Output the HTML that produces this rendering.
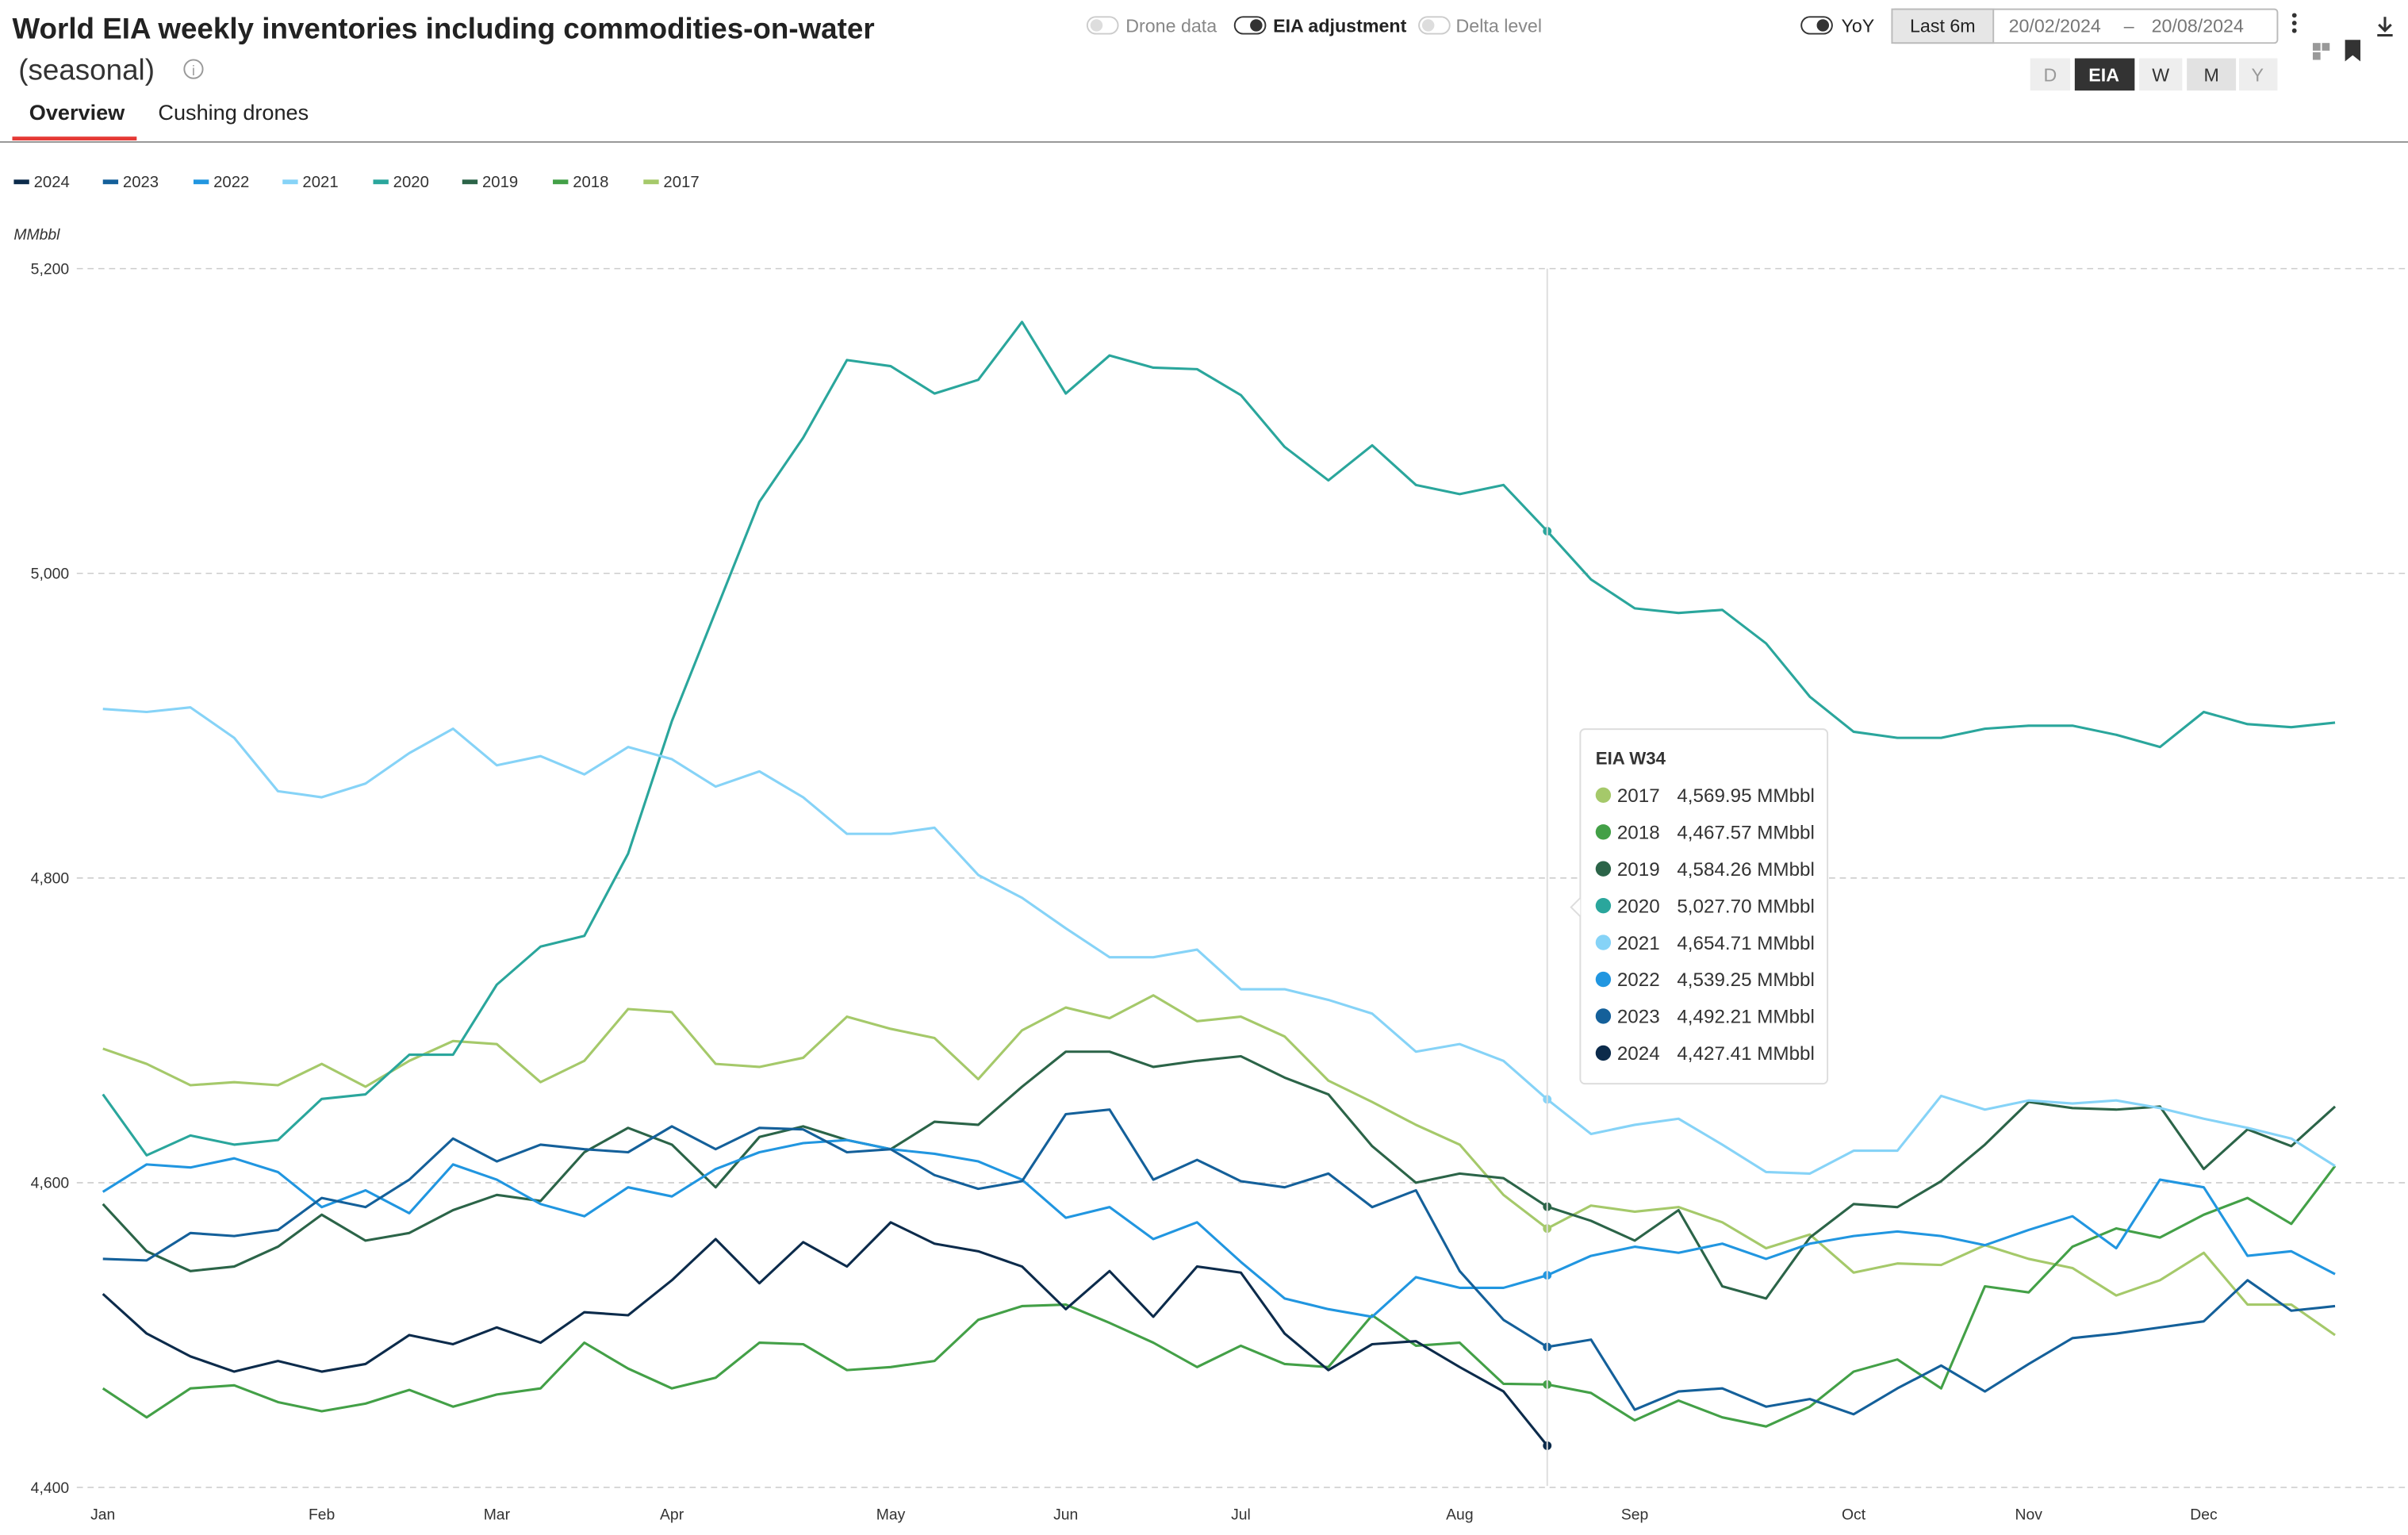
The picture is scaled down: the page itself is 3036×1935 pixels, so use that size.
<!DOCTYPE html>
<html><head><meta charset="utf-8"><style>
html,body{margin:0;padding:0;background:#fff;}
svg{display:block;font-family:"Liberation Sans",sans-serif;}
</style></head><body>
<svg id="chart" width="3036" height="1935" viewBox="0 0 1568 1000" preserveAspectRatio="none" xmlns="http://www.w3.org/2000/svg">
<g>
<text x="8" y="25" font-size="19" font-weight="bold" fill="#222">World EIA weekly inventories including commodities-on-water</text>
<text x="12" y="52" font-size="19" fill="#333">(seasonal)</text>
<g><circle cx="126" cy="45" r="6" fill="none" stroke="#999" stroke-width="1"/><text x="126" y="49" font-size="9" fill="#999" text-anchor="middle">i</text></g>
<text x="19" y="78" font-size="14" font-weight="bold" fill="#222">Overview</text>
<rect x="8" y="89" width="81" height="2.5" fill="#e53935"/>
<text x="103" y="78" font-size="14" fill="#222">Cushing drones</text>
<line x1="0" y1="92.5" x2="1568" y2="92.5" stroke="#999" stroke-width="1"/>
<g><rect x="708" y="11" width="20" height="11" rx="5.5" fill="#fff" stroke="#ccc"/><circle cx="714" cy="16.5" r="4" fill="#ddd"/><text x="733" y="21" font-size="12" fill="#888">Drone data</text></g>
<g><rect x="804" y="11" width="20" height="11" rx="5.5" fill="#fff" stroke="#333"/><circle cx="818" cy="16.5" r="4" fill="#333"/><text x="829" y="21" font-size="12" font-weight="bold" fill="#222">EIA adjustment</text></g>
<g><rect x="924" y="11" width="20" height="11" rx="5.5" fill="#fff" stroke="#ccc"/><circle cx="930" cy="16.5" r="4" fill="#ddd"/><text x="948" y="21" font-size="12" fill="#888">Delta level</text></g>
<g><rect x="1173" y="11" width="20" height="11" rx="5.5" fill="#fff" stroke="#333"/><circle cx="1187" cy="16.5" r="4" fill="#333"/><text x="1199" y="21" font-size="12" fill="#222">YoY</text></g>
<g><rect x="1232" y="6" width="251" height="22" rx="2" fill="#fff" stroke="#bbb"/><rect x="1232" y="6" width="66" height="22" fill="#e6e6e6" stroke="#bbb"/><text x="1265" y="21" font-size="12" fill="#222" text-anchor="middle">Last 6m</text><text x="1308" y="21" font-size="12" fill="#777">20/02/2024</text><text x="1383" y="21" font-size="12" fill="#777">–</text><text x="1401" y="21" font-size="12" fill="#777">20/08/2024</text></g>
<g><circle cx="1494" cy="10" r="1.5" fill="#333"/><circle cx="1494" cy="15" r="1.5" fill="#333"/><circle cx="1494" cy="20" r="1.5" fill="#333"/></g>
<g><path d="M1553 11v9M1549 16l4 4 4-4M1548 23h10" stroke="#333" stroke-width="1.6" fill="none"/></g>
<g><rect x="1506" y="28" width="5" height="5" fill="#999"/><rect x="1512" y="28" width="5" height="5" fill="#999"/><rect x="1506" y="34" width="5" height="5" fill="#999"/></g>
<path d="M1527 26h10v14l-5-4-5 4z" fill="#333"/>
<g>
<rect x="1322" y="38" width="26" height="21" fill="#eee"/><text x="1335" y="53" font-size="12" fill="#999" text-anchor="middle">D</text>
<rect x="1351" y="38" width="39" height="21" fill="#333"/><text x="1370" y="53" font-size="12" font-weight="bold" fill="#fff" text-anchor="middle">EIA</text>
<rect x="1393" y="38" width="28" height="21" fill="#eee"/><text x="1407" y="53" font-size="12" fill="#333" text-anchor="middle">W</text>
<rect x="1424" y="38" width="32" height="21" fill="#e2e2e2"/><text x="1440" y="53" font-size="12" fill="#333" text-anchor="middle">M</text>
<rect x="1458" y="38" width="25" height="21" fill="#eee"/><text x="1470" y="53" font-size="12" fill="#999" text-anchor="middle">Y</text>
</g>
</g>
<g id="legend"></g>
<text x="9" y="156" font-size="10" font-style="italic" fill="#333">MMbbl</text>
<g id="grid"></g><g id="series"></g><g id="cross"></g><g id="tooltip"></g>
<script>
const NS="http://www.w3.org/2000/svg";
const years=["2024","2023","2022","2021","2020","2019","2018","2017"];
const colors=["#0c2b4b","#14609a","#2196e0","#86d3f7","#2aa69c","#2b6448","#43a047","#a5c96a"];
const months=["Jan","Feb","Mar","Apr","May","Jun","Jul","Aug","Sep","Oct","Nov","Dec"];
const monthWeeks=[0,5,9,13,18,22,26,31,35,40,44,48];
const yTicks=[4400,4600,4800,5000,5200];
const d2024=[4527,4501,4486,4476,4483,4476,4481,4500,4494,4505,4495,4515,4513,4536,4563,4534,4561,4545,4574,4560,4555,4545,4517,4542,4512,4545,4541,4501,4477,4494,4496,4479,4463,4427.41];
const d2023=[4550,4549,4567,4565,4569,4590,4584,4602,4629,4614,4625,4622,4620,4637,4622,4636,4635,4620,4622,4605,4596,4601,4645,4648,4602,4615,4601,4597,4606,4584,4595,4542,4510,4492.21,4497,4451,4463,4465,4453,4458,4448,4465,4480,4463,4481,4498,4501,4505,4509,4536,4516,4519];
const d2022=[4594,4612,4610,4616,4607,4584,4595,4580,4612,4602,4586,4578,4597,4591,4609,4620,4626,4628,4622,4619,4614,4602,4577,4584,4563,4574,4548,4524,4517,4512,4538,4531,4531,4539.25,4552,4558,4554,4560,4550,4560,4565,4568,4565,4559,4569,4578,4557,4602,4597,4552,4555,4540];
const d2021=[4911,4909,4912,4892,4857,4853,4862,4882,4898,4874,4880,4868,4886,4878,4860,4870,4853,4829,4829,4833,4802,4787,4767,4748,4748,4753,4727,4727,4720,4711,4686,4691,4680,4654.71,4632,4638,4642,4625,4607,4606,4621,4621,4657,4648,4654,4652,4654,4649,4642,4636,4629,4611];
const d2020=[4658,4618,4631,4625,4628,4655,4658,4684,4684,4730,4755,4762,4816,4903,4975,5047,5089,5140,5136,5118,5127,5165,5118,5143,5135,5134,5117,5083,5061,5084,5058,5052,5058,5027.70,4996,4977,4974,4976,4954,4919,4896,4892,4892,4898,4900,4900,4894,4886,4909,4901,4899,4902];
const d2019=[4586,4555,4542,4545,4558,4579,4562,4567,4582,4592,4588,4620,4636,4625,4597,4630,4637,4628,4622,4640,4638,4663,4686,4686,4676,4680,4683,4669,4658,4624,4600,4606,4603,4584.26,4575,4562,4582,4532,4524,4564,4586,4584,4601,4625,4653,4649,4648,4650,4609,4635,4624,4650];
const d2018=[4465,4446,4465,4467,4456,4450,4455,4464,4453,4461,4465,4495,4478,4465,4472,4495,4494,4477,4479,4483,4510,4519,4520,4508,4495,4479,4493,4481,4479,4513,4493,4495,4468,4467.57,4462,4444,4457,4446,4440,4453,4476,4484,4465,4532,4528,4558,4570,4564,4579,4590,4573,4611];
const d2017=[4688,4678,4664,4666,4664,4678,4663,4680,4693,4691,4666,4680,4714,4712,4678,4676,4682,4709,4701,4695,4668,4700,4715,4708,4723,4706,4709,4696,4667,4653,4638,4625,4592,4569.95,4585,4581,4584,4574,4557,4566,4541,4547,4546,4559,4550,4544,4526,4536,4554,4520,4520,4500];
const seriesData=[d2024,d2023,d2022,d2021,d2020,d2019,d2018,d2017];
const hoverWeek=33;
const X=i=>67+28.5*i;
const Y=v=>175+(5200-v)*198.5/200;
function mk(t,a,p){const e=document.createElementNS(NS,t);for(const k in a)e.setAttribute(k,a[k]);p.appendChild(e);return e;}
const leg=document.getElementById('legend');
years.forEach((yr,k)=>{const g=mk('g',{},leg);


const x0=[9,67,126,184,243,301,360,419][k];
mk('rect',{x:x0,y:117,width:10,height:3,fill:colors[k]},g);
const t=mk('text',{x:x0+13,y:122,'font-size':10.5,fill:'#333'},g);t.textContent=yr;});
const grid=document.getElementById('grid');
yTicks.forEach(v=>{const l=mk('line',{x1:50,x2:1568,y1:Y(v),y2:Y(v),stroke:'#ccc','stroke-dasharray':'4 3','stroke-width':0.8},grid);


const t=mk('text',{x:45,y:Y(v)+3.5,'font-size':10,fill:'#333','text-anchor':'end'},grid);


t.textContent=v.toLocaleString('en-US');});
months.forEach((m,k)=>{const t=mk('text',{x:X(monthWeeks[k]),y:990,'font-size':10,fill:'#333','text-anchor':'middle'},grid);


t.textContent=m;});
const cr=document.getElementById('cross');
const cl=mk('line',{x1:X(hoverWeek),x2:X(hoverWeek),y1:175,y2:968,stroke:'#ddd','stroke-width':1},cr);


const sg=document.getElementById('series');
for(let k=years.length-1;k>=0;k--){const d=seriesData[k];
const p=mk('polyline',{points:d.map((v,i)=>X(i)+','+Y(v)).join(' '),fill:'none',stroke:colors[k],'stroke-width':1.6,'stroke-linejoin':'round'},sg);


if(d.length>hoverWeek){const c=mk('circle',{cx:X(hoverWeek),cy:Y(d[hoverWeek]),r:2.8,fill:colors[k]},sg);

}}
const tt=document.getElementById('tooltip');


mk('rect',{x:1029,y:475,width:161,height:231,rx:3,fill:'#fff',stroke:'#ddd','stroke-width':1,filter:''},tt);
mk('path',{d:'M1029 585l-6 6 6 6',fill:'#fff',stroke:'#ddd'},tt);
const tl=mk('text',{x:1039,y:498,'font-size':11.5,'font-weight':'bold',fill:'#333'},tt);tl.textContent='EIA W'+(hoverWeek+1);
const order=[7,6,5,4,3,2,1,0];
order.forEach((k,r)=>{const yy=518+24*r;
mk('circle',{cx:1044,cy:yy,r:5,fill:colors[k]},tt);
const a=mk('text',{x:1053,y:yy+4.5,'font-size':12.5,fill:'#333'},tt);a.textContent=years[k];
const b=mk('text',{x:1092,y:yy+4.5,'font-size':12.5,fill:'#333'},tt);
b.textContent=seriesData[k][hoverWeek].toLocaleString('en-US',{minimumFractionDigits:2,maximumFractionDigits:2})+' MMbbl';});
</script>
</svg>
</body></html>
